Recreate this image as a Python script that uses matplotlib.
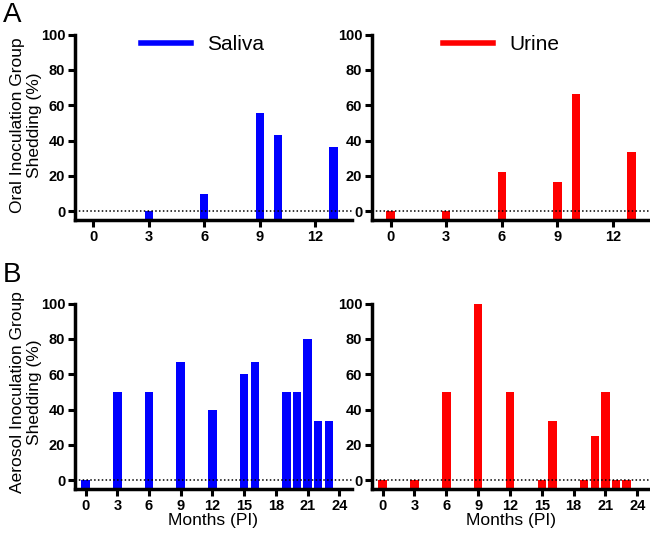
import matplotlib.pyplot as plt
import numpy as np

plt.rcParams['font.family'] = ['Liberation Sans', 'DejaVu Sans']

# panel A (oral inoculation)
oral_saliva_months = [3, 6, 9, 10, 13]
oral_saliva_vals = [0, 10, 55.5, 43, 36.5]
oral_urine_months = [0, 3, 6, 9, 10, 13]
oral_urine_vals = [0, 0, 22, 16.5, 66.5, 33.3]

# panel B (aerosol inoculation)
aero_months = [0, 3, 6, 9, 12, 15, 16, 19, 20, 21, 22, 23]
aero_saliva = [0, 50, 50, 66.7, 40, 60, 66.7, 50, 50, 80, 33.3, 33.3]
aero_urine = [0, 0, 50, 100, 50, 0, 33.3, 0, 25, 50, 0, 0]

blue = '#0000ff'
red = '#ff0000'
ymin = -5

fig = plt.figure(figsize=(6.5, 5.34), dpi=100)
W, H = 650, 534

def add_ax(x0, x1, ytop, ybot):
    return fig.add_axes([x0 / W, 1 - ybot / H, (x1 - x0) / W, (ybot - ytop) / H])

axA1 = add_ax(75, 352, 26, 220)
axA2 = add_ax(372, 650, 26, 220)
axB1 = add_ax(75, 352, 295, 489)
axB2 = add_ax(372, 650, 295, 489)

def style(ax, xmax, ticks):
    ax.set_xlim(-1, xmax)
    ax.set_ylim(ymin, 100 + 100 * 9 / 185)
    for s in ['top', 'right']:
        ax.spines[s].set_visible(False)
    for s in ['left', 'bottom']:
        ax.spines[s].set_linewidth(2.5)
    ax.spines['left'].set_bounds(ymin, 100)
    ax.set_yticks([0, 20, 40, 60, 80, 100])
    ax.set_xticks(ticks)
    ax.tick_params(width=2.2, length=5, direction='out', labelsize=10.5, pad=2)
    for lab in ax.get_xticklabels() + ax.get_yticklabels():
        lab.set_fontweight('bold')
    ax.axhline(0, color='k', ls=(0, (1, 1.5)), lw=1.1, zorder=3)

def bars(ax, months, vals, color, width):
    v = np.array(vals, dtype=float)
    ax.bar(months, v - ymin, width, bottom=ymin, color=color, zorder=2)

bars(axA1, oral_saliva_months, oral_saliva_vals, blue, 0.45)
bars(axA2, oral_urine_months, oral_urine_vals, red, 0.45)
bars(axB1, aero_months, aero_saliva, blue, 0.8)
bars(axB2, aero_months, aero_urine, red, 0.8)

for ax in [axA1, axA2]:
    style(ax, 14, [0, 3, 6, 9, 12])
for ax in [axB1, axB2]:
    style(ax, 25.2, [0, 3, 6, 9, 12, 15, 18, 21, 24])
    ax.set_xlabel('Months (PI)', fontsize=12.5, labelpad=0)

fig.text(26 / W, 1 - 125 / H, 'Oral Inoculation Group\nShedding (%)', fontsize=12.5,
         rotation=90, ha='center', va='center', linespacing=1.2)
fig.text(26 / W, 1 - 392 / H, 'Aerosol Inoculation Group\nShedding (%)', fontsize=12.5,
         rotation=90, ha='center', va='center', linespacing=1.2)

# legends
axA1.plot([], [], color=blue, lw=4, label='Saliva')
axA2.plot([], [], color=red, lw=4, label='Urine')
axA1.legend(loc='upper center', bbox_to_anchor=(0.46, 1.05), frameon=False,
            fontsize=15, handlelength=2.4, handletextpad=0.8)
axA2.legend(loc='upper center', bbox_to_anchor=(0.465, 1.05), frameon=False,
            fontsize=15, handlelength=2.4, handletextpad=0.8)

fig.text(3 / W, 1 - 2 / H, 'A', fontsize=20, va='top', ha='left')
fig.text(3 / W, 1 - 262 / H, 'B', fontsize=20, va='top', ha='left')

fig.savefig('out.png', dpi=100)
